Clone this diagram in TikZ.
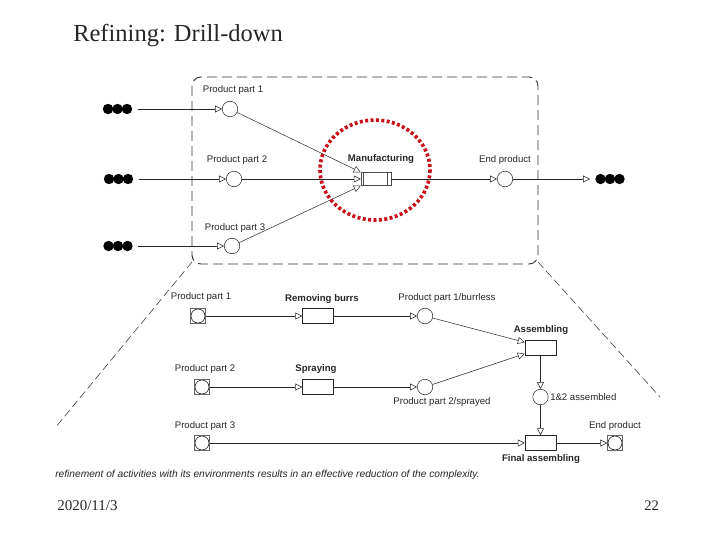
\documentclass[tikz,border=0pt]{standalone}
\usepackage{fontspec}
\setmainfont{Liberation Serif}
\setsansfont{Liberation Sans}
\usetikzlibrary{arrows.meta}
\definecolor{focusred}{RGB}{200,16,24}
\newcommand\partfont{\fontsize{9.6}{11}\selectfont\sffamily}
\newcommand\actfont{\fontsize{9.6}{11}\selectfont\sffamily\bfseries}
\tikzset{
  place/.style={circle, draw, minimum size=15.5pt, inner sep=0pt},
  act/.style={rectangle, draw, minimum width=31pt, minimum height=15pt, inner sep=0pt},
  ext/.style={rectangle, draw=black!60, minimum size=15pt, inner sep=0pt,
    path picture={\draw[black] (path picture bounding box.center) circle (7pt);}},
  dots/.style={rectangle, minimum width=30pt, minimum height=11pt, inner sep=0pt, outer sep=5pt,
    path picture={\fill[black] (path picture bounding box.center) ++(-9.5pt,0) circle (5.2pt)
      ++(9.5pt,0) circle (5.2pt) ++(9.5pt,0) circle (5.2pt);}},
  flow/.style={-{Triangle[open, length=7pt, width=7pt]}},
  frame/.style={draw=black!80, line width=0.9pt, dash pattern=on 10pt off 5pt, rounded corners=9pt},
  zoomline/.style={draw=black!75, line width=0.6pt, dash pattern=on 8pt off 4pt},
  txt/.style={font=\partfont, inner sep=1pt},
  bold/.style={font=\actfont, inner sep=1pt}
}
\begin{document}
\begin{tikzpicture}[x=1pt, y=-1pt, black!85, line width=0.5pt]
\useasboundingbox (0,0) rectangle (720,540);
% Title
\node[anchor=base west, font=\fontsize{24.5}{28}\selectfont, inner sep=0pt] (title) at (73,42) {Refining: Drill-down};
% Frame round the coarse net and the zoom lines
\draw[frame] (192,77) rectangle (538,264);
\coordinate (fl) at (192,262);
\coordinate (fr) at (538,262);
\coordinate (zl) at (55,428);
\coordinate (zr) at (660,397);
\draw[zoomline] (fl) -- (zl);
\draw[zoomline] (fr) -- (zr);
% Coarse net
\node[dots] (in1) at (117.5,109) {};
\node[dots] (in2) at (118.5,179) {};
\node[dots] (in3) at (118,246) {};
\node[dots] (out) at (610,179) {};
\node[place] (pa) at (230,109) {};
\node[place] (pb) at (234,179) {};
\node[place] (pc) at (232,246) {};
\node[act, minimum width=30pt, minimum height=13pt, draw=black!70,
  path picture={
    \draw ([xshift=2pt]path picture bounding box.north west) -- ([xshift=2pt]path picture bounding box.south west);
    \draw ([xshift=-4pt]path picture bounding box.north east) -- ([xshift=-4pt]path picture bounding box.south east);
  }] (mf) at (376,179) {};
\node[place] (ep) at (505,179) {};
\node[txt] (la) at (233,90) {Product part 1};
\node[txt] (lb) at (237,160) {Product part 2};
\node[txt] (lc) at (235,228) {Product part 3};
\node[bold] (lmf) at (381,159) {Manufacturing};
\node[txt] (lep) at (505,160) {End product};
\draw[flow] (in1) -- (pa);
\draw[flow] (in2) -- (pb);
\draw[flow] (in3) -- (pc);
\draw[flow] (pa) -- (mf.north west);
\draw[flow] (pb) -- (mf.west);
\draw[flow] (pc) -- (mf.south west);
\draw[flow] (mf) -- (ep);
\draw[flow] (ep) -- (out);
% Focus on the activity
\draw[focusred, line width=3.6pt, dash pattern=on 3pt off 2.4pt] (375,170) ellipse (55 and 50);
% Refined net
\node[ext] (s1) at (198,316) {};
\node[ext] (s2) at (202,387) {};
\node[ext] (s3) at (202,443) {};
\node[act] (rb) at (318,316) {};
\node[act] (sp) at (318,387) {};
\node[place] (q1) at (425,316) {};
\node[place] (q2) at (425,387) {};
\node[act] (as) at (540.5,348) {};
\node[place] (q12) at (540.5,397) {};
\node[act] (fa) at (540.5,443) {};
\node[ext] (e1) at (615,443) {};
\node[txt] (ls1) at (201,297) {Product part 1};
\node[txt] (ls2) at (205,369) {Product part 2};
\node[txt] (ls3) at (205,426) {Product part 3};
\node[bold] (lrb) at (322,299) {Removing burrs};
\node[bold] (lsp) at (316,369) {Spraying};
\node[txt] (lq1) at (447,298) {Product part 1/burrless};
\node[txt] (lq2) at (442,402) {Product part 2/sprayed};
\node[bold] (las) at (541,330) {Assembling};
\node[txt, anchor=west] (lq12) at (549,397) {1\&2 assembled};
\node[bold] (lfa) at (541,459) {Final assembling};
\node[txt] (le1) at (615,426) {End product};
\draw[flow] (s1) -- (rb);
\draw[flow] (rb) -- (q1);
\draw[flow] (q1) -- (as.160);
\draw[flow] (s2) -- (sp);
\draw[flow] (sp) -- (q2);
\draw[flow] (q2) -- (as.200);
\draw[flow] (as) -- (q12);
\draw[flow] (q12) -- (fa);
\draw[flow] (s3) -- (fa);
\draw[flow] (fa) -- (e1);
% Caption and footer
\node[anchor=west, inner sep=0pt, font=\fontsize{10.2}{12}\selectfont\sffamily\itshape] (cap) at (55,475)
  {refinement of activities with its environments results in an effective reduction of the complexity.};
\node[anchor=base west, inner sep=0pt, font=\fontsize{15}{17}\selectfont] (date) at (57,510) {2020/11/3};
\node[anchor=base east, inner sep=0pt, font=\fontsize{14.5}{17}\selectfont] (page) at (659,510) {22};
\end{tikzpicture}
\end{document}
